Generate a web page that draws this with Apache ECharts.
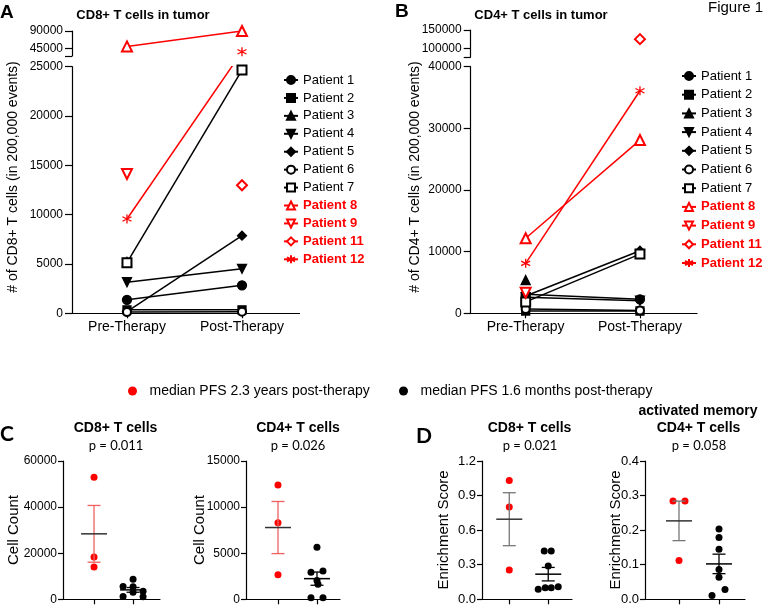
<!DOCTYPE html>
<html><head><meta charset="utf-8">
<script src="https://cdn.jsdelivr.net/npm/echarts@6/dist/echarts.min.js"></script>
<style>html,body{margin:0;padding:0;background:#fff}#c{width:765px;height:605px}</style>
</head><body><div id="c"></div>
<script>
// ---------------- DATA ----------------
const patients = ['Patient 1','Patient 2','Patient 3','Patient 4','Patient 5','Patient 6','Patient 7','Patient 8','Patient 9','Patient 11','Patient 12'];
const therapyCategories = ['Pre-Therapy','Post-Therapy'];
// Panel A: CD8+ T cells in tumor (# in 200,000 events)
const cd8Pre  = [1370, 350, 5200, 3150, 170, 120, 5130, 50000, 14120, null, 9560];
const cd8Post = [2840, 350, null, 4510, 7870, 150, 24660, 90000, null, 12980, 36000];
// Panel B: CD4+ T cells in tumor
const cd4Pre  = [3080, 370, 5400, 2600, 2800, 700, 1850, 12170, 3340, null, 8110];
const cd4Post = [2270, 370, null, 2050, 10150, 450, 9600, 28100, null, 125000, 36100];
// broken-axis tick labels
const aUpperTicks = [45000, 90000];
const bUpperTicks = [100000, 150000];
// Panel C: cell counts
const groupNames = ['median PFS 2.3 years post-therapy', 'median PFS 1.6 months post-therapy'];
const c8Red   = [52900, 18300, 14000];
const c8Black = [8700, 5600, 5400, 3500, 3100, 1200, 1100];
const c4Red   = [12400, 8300, 2650];
const c4Black = [5640, 2930, 3070, 1630, 180, 180, 2050];
// Panel D: enrichment scores
const d8Red   = [1.03, 0.80, 0.255];
const d8Black = [0.42, 0.42, 0.29, 0.087, 0.10, 0.10, 0.109];
const d4Red   = [0.284, 0.284, 0.1125];
const d4Black = [0.203, 0.179, 0.145, 0.0865, 0.064, 0.028, 0.011];

// ---------------- STYLE ----------------
const FONT = '"Liberation Sans", Arial, sans-serif';
const LATO = 'Lato, "Liberation Sans", sans-serif';
const RED = '#ff0000';
const ASTERISK = 'path://M5,0L5,10M0.67,2.5L9.33,7.5M0.67,7.5L9.33,2.5';
const patientColor  = ['#000','#000','#000','#000','#000','#000','#000',RED,RED,RED,RED];
const patientSymbol = ['circle','rect','triangle','triangle','diamond','emptyCircle','emptyRect','emptyTriangle','emptyTriangle','emptyDiamond',ASTERISK];
const patientRotate = [0,0,0,180,0,0,0,0,180,0,0];
const patientSize   = [9,8,9,9,9,8,9,10,10,10,9];
// horizontal jitter (px) of scatter points
const c8RedOff = [0,0,0], c8BlackOff = [0,-10,0,10,0,-10,10];
const c4RedOff = [0,0,0], c4BlackOff = [0,-6,6,1,-6,6,0];
const d8RedOff = [0,0,0], d8BlackOff = [-4,3,0,-10,-3,3,10];
const d4RedOff = [-6,6,0], d4BlackOff = [0,0,0,0,0,6,-7];

function stats(arr){
  const n = arr.length;
  const m = arr.reduce((a,b)=>a+b,0)/n;
  const sd = Math.sqrt(arr.reduce((a,b)=>a+(b-m)*(b-m),0)/(n-1));
  const sem = sd/Math.sqrt(n);
  return [m, m-sem, m+sem];
}

// ---------------- LAYOUT ----------------
const A_UPPER_MIN = 25000, A_LOWER_MAX = 25000, B_UPPER_MIN = 76230, B_LOWER_MAX = 40000;
const grids = [
  {left:72,    top:31,   width:227.5, height:25},     // 0 A upper
  {left:72,    top:66.7, width:227.5, height:246.6},  // 1 A lower
  {left:470.7, top:30,   width:226.4, height:27},     // 2 B upper
  {left:470.7, top:66.7, width:226.4, height:246.6},  // 3 B lower
  {left:63,    top:461,  width:97,    height:138.3},  // 4 C CD8
  {left:246,   top:461,  width:94,    height:138.3},  // 5 C CD4
  {left:482,   top:461,  width:90,    height:138.3},  // 6 D CD8
  {left:645,   top:461,  width:100,   height:138.3}   // 7 D CD4
].map(g => Object.assign({outerBoundsMode:'none', containLabel:false, show:false}, g));

const axLine = {show:true, onZero:false, lineStyle:{color:'#000', width:1.2}};
function xAx(i, min, max, opts){
  const base = {type:'value', gridIndex:i, min, max, splitLine:{show:false}};
  if (!opts) return Object.assign(base, {show:false});
  return Object.assign(base, {
    axisLine: axLine,
    axisTick: {show:true, inside:false, length:5, customValues:[0,1], lineStyle:{color:'#000', width:1.2}},
    axisLabel: opts.labels ? {show:true, customValues:[0,1], formatter: v => therapyCategories[Math.round(v)] || '',
               color:'#000', fontSize:14, fontFamily:FONT, margin:7} : {show:false}
  });
}
function yAx(i, o){
  return {
    type:'value', gridIndex:i, min:o.min, max:o.max, interval:o.interval,
    splitLine:{show:false},
    axisLine: axLine,
    axisTick: Object.assign({show:true, inside:false, length:o.tick||5, lineStyle:{color:'#000', width:1.2}}, o.tickValues ? {customValues:o.tickValues} : {}),
    axisLabel: Object.assign({show:true, color:'#000', fontSize:o.fs||12, fontFamily:FONT, margin:o.margin||6,
      formatter: o.fmt || (v => String(v))}, o.labelValues ? {customValues:o.labelValues} : {})
  };
}
const xAxes = [
  xAx(0, -0.478, 1.5, null),
  xAx(1, -0.478, 1.5, {labels:true}),
  xAx(2, -0.481, 1.5, null),
  xAx(3, -0.481, 1.5, {labels:true}),
  xAx(4, -0.795, 1.69, {labels:false}),
  xAx(5, -0.82, 1.59, {labels:false}),
  xAx(6, -0.70, 1.61, {labels:false}),
  xAx(7, -0.85, 1.65, {labels:false})
];
const yAxes = [
  yAx(0, {min:A_UPPER_MIN, max:90000, tick:7, margin:9, tickValues:[A_UPPER_MIN].concat(aUpperTicks), labelValues:aUpperTicks}),
  yAx(1, {min:0, max:A_LOWER_MAX, interval:5000, tick:7, margin:9}),
  yAx(2, {min:B_UPPER_MIN, max:150000, tick:7, margin:9, tickValues:[B_UPPER_MIN].concat(bUpperTicks), labelValues:bUpperTicks}),
  yAx(3, {min:0, max:B_LOWER_MAX, interval:10000, tick:7, margin:9}),
  yAx(4, {min:0, max:60000, interval:20000}),
  yAx(5, {min:0, max:15000, interval:5000}),
  yAx(6, {min:0, max:1.2, interval:0.3, fs:13, fmt: v => v.toFixed(1)}),
  yAx(7, {min:0, max:0.4, interval:0.1, fs:13, fmt: v => v.toFixed(1)})
];

// ---------------- SERIES ----------------
const series = [];
const crossFixes = []; // lines going from the lower segment into the upper one
// segment: [axisIndex, min, max, upperAxisIndex (for overflow) ]
function addPanel(pre, post, segments){
  patients.forEach((name, i) => {
    segments.forEach(([ax, segMin, segMax, upperAx]) => {
      const vals = [pre[i], post[i]];
      const inRange = vals.map(v => v != null && v >= segMin && v <= segMax);
      if (!inRange[0] && !inRange[1]) return;
      const pts = [];
      const si = series.length;
      vals.forEach((v, x) => {
        if (v == null) return;
        if (inRange[x]) pts.push([x, v]);
        else if (v > segMax && upperAx != null) {
          crossFixes.push({si, di:pts.length, x, v, lower:ax, upper:upperAx});
          pts.push({value:[x, v], symbol:'none'});
        }
      });
      series.push({
        type:'line', name, xAxisIndex:ax, yAxisIndex:ax, data:pts,
        symbol:patientSymbol[i], symbolSize:patientSize[i], symbolRotate:patientRotate[i],
        lineStyle:{color:patientColor[i], width:1.5},
        itemStyle:{color:patientColor[i], borderColor:patientColor[i], borderWidth:1.3},
        clip:true, animation:false, silent:true, z: i>=7 ? 3 : 2
      });
    });
  });
}
addPanel(cd8Pre, cd8Post, [[1, -Infinity, A_LOWER_MAX, 0], [0, A_UPPER_MIN, Infinity, null]]);
addPanel(cd4Pre, cd4Post, [[3, -Infinity, B_LOWER_MAX, 2], [2, B_UPPER_MIN, Infinity, null]]);

function addScatter(ax, red, redOff, black, blackOff, redSem){
  series.push({type:'scatter', name:groupNames[0], xAxisIndex:ax, yAxisIndex:ax, symbolSize:7, silent:true,
    itemStyle:{color:RED, opacity:1}, z:2,
    data: red.map((v,i)=>({value:[0,v], symbolOffset:[redOff[i],0]}))});
  series.push({type:'scatter', name:groupNames[1], xAxisIndex:ax, yAxisIndex:ax, symbolSize:7, silent:true,
    itemStyle:{color:'#000', opacity:1}, z:2,
    data: black.map((v,i)=>({value:[1,v], symbolOffset:[blackOff[i],0]}))});
  const cols = [redSem, {mean:'#000', sem:'#000'}];
  series.push({type:'custom', name:'err'+ax, xAxisIndex:ax, yAxisIndex:ax, silent:true, z:4,
    data:[[0].concat(stats(red)), [1].concat(stats(black))],
    renderItem:(params, api) => {
      const x = api.value(0);
      const pm = api.coord([x, api.value(1)]);
      const pl = api.coord([x, api.value(2)]);
      const ph = api.coord([x, api.value(3)]);
      const c = cols[params.dataIndex];
      const hm = 13, hc = 6.5, lw = 1.3;
      return {type:'group', children:[
        {type:'line', shape:{x1:pm[0], y1:pl[1], x2:pm[0], y2:ph[1]}, style:{stroke:c.sem, lineWidth:lw}},
        {type:'line', shape:{x1:pm[0]-hc, y1:pl[1], x2:pm[0]+hc, y2:pl[1]}, style:{stroke:c.sem, lineWidth:lw}},
        {type:'line', shape:{x1:pm[0]-hc, y1:ph[1], x2:pm[0]+hc, y2:ph[1]}, style:{stroke:c.sem, lineWidth:lw}},
        {type:'line', shape:{x1:pm[0]-hm, y1:pm[1], x2:pm[0]+hm, y2:pm[1]}, style:{stroke:c.mean, lineWidth:1.5}}
      ]};
    }});
}
const semC = {mean:'#333', sem:'#f06060'};
const semD = {mean:'#333', sem:'#777'};
addScatter(4, c8Red, c8RedOff, c8Black, c8BlackOff, semC);
addScatter(5, c4Red, c4RedOff, c4Black, c4BlackOff, semC);
addScatter(6, d8Red, d8RedOff, d8Black, d8BlackOff, semD);
addScatter(7, d4Red, d4RedOff, d4Black, d4BlackOff, semD);

// ---------------- LEGENDS ----------------
const legendData = patients.map((p,i) => ({name:p, textStyle: i>=7 ? {color:RED, fontWeight:'bold'} : {color:'#000', fontWeight:'normal'}}));
function patientLegend(left, top, gap){
  return {orient:'vertical', left, top, padding:0, itemWidth:14, itemHeight:10, itemGap:gap,
    selectedMode:false, data:legendData,
    textStyle:{fontSize:13, fontFamily:FONT, color:'#000', lineHeight:13}};
}
function groupLegend(left, name){
  return {orient:'horizontal', left, top:384, padding:0, itemWidth:24, itemHeight:9, icon:'circle',
    selectedMode:false, data:[name], textStyle:{fontSize:14, fontFamily:FONT, color:'#000', lineHeight:14}};
}
const legends = [
  patientLegend(283, 73.5, 4.93),
  patientLegend(681, 69.5, 5.7),
  groupLegend(128, groupNames[0]),
  groupLegend(399, groupNames[1])
];

// ---------------- TEXT ----------------
function txt(text, x, y, font, align, rot){
  return {type:'text', x, y, rotation:rot||0, silent:true,
    style:{text, font, fill:'#000', textAlign:align||'center', textVerticalAlign:'middle'}};
}
const V = Math.PI/2;
const graphic = [
  txt('A', 0, 13, 'bold 19px '+FONT, 'left'),
  txt('CD8+ T cells in tumor', 143, 15, 'bold 13px '+FONT),
  txt('B', 395, 12, 'bold 19px '+FONT, 'left'),
  txt('CD4+ T cells in tumor', 541, 15, 'bold 13px '+FONT),
  txt('Figure 1', 708, 8, '15px '+FONT, 'left'),
  txt('# of CD8+ T cells (in 200,000 events)', 13.5, 177, '14px '+FONT, 'center', V),
  txt('# of CD4+ T cells (in 200,000 events)', 415, 177, '14px '+FONT, 'center', V),
  txt('C', 0, 434, 'bold 21px '+LATO, 'left'),
  txt('CD8+ T cells', 115.5, 428, 'bold 14px '+FONT),
  txt('p = 0.011', 116, 446, '13px '+LATO),
  txt('CD4+ T cells', 298, 428, 'bold 14px '+FONT),
  txt('p = 0.026', 298, 446, '13px '+LATO),
  txt('D', 416, 436, 'bold 21px '+LATO, 'left'),
  txt('CD8+ T cells', 529.5, 428, 'bold 14px '+FONT),
  txt('p = 0.021', 530, 446, '13px '+LATO),
  txt('activated memory', 698, 411, 'bold 14px '+FONT),
  txt('CD4+ T cells', 698.5, 428, 'bold 14px '+FONT),
  txt('p = 0.058', 699, 446, '13px '+LATO),
  txt('Cell Count', 13.5, 530, '15px '+FONT, 'center', V),
  txt('Cell Count', 199.5, 530, '15px '+FONT, 'center', V),
  txt('Enrichment Score', 444, 530, '15px '+FONT, 'center', V),
  txt('Enrichment Score', 616, 530, '15px '+FONT, 'center', V)
];

const chart = echarts.init(document.getElementById('c'), null, {renderer:'canvas', width:765, height:605});
chart.setOption({
  backgroundColor:'#fff',
  animation:false,
  textStyle:{fontFamily:FONT},
  grid:grids, xAxis:xAxes, yAxis:yAxes, series, legend:legends, graphic
});
// Lines that cross the axis break are aimed at the point's on-screen position in the upper segment
// (converted through the library's own scales), then clipped by the lower grid.
if (crossFixes.length) {
  crossFixes.forEach(f => {
    const pix = chart.convertToPixel({xAxisIndex:f.upper, yAxisIndex:f.upper}, [f.x, f.v]);
    const dv = chart.convertFromPixel({xAxisIndex:f.lower, yAxisIndex:f.lower}, pix);
    series[f.si].data[f.di] = {value:[f.x, dv[1]], symbol:'none'};
  });
  chart.setOption({series});
}
</script></body></html>
